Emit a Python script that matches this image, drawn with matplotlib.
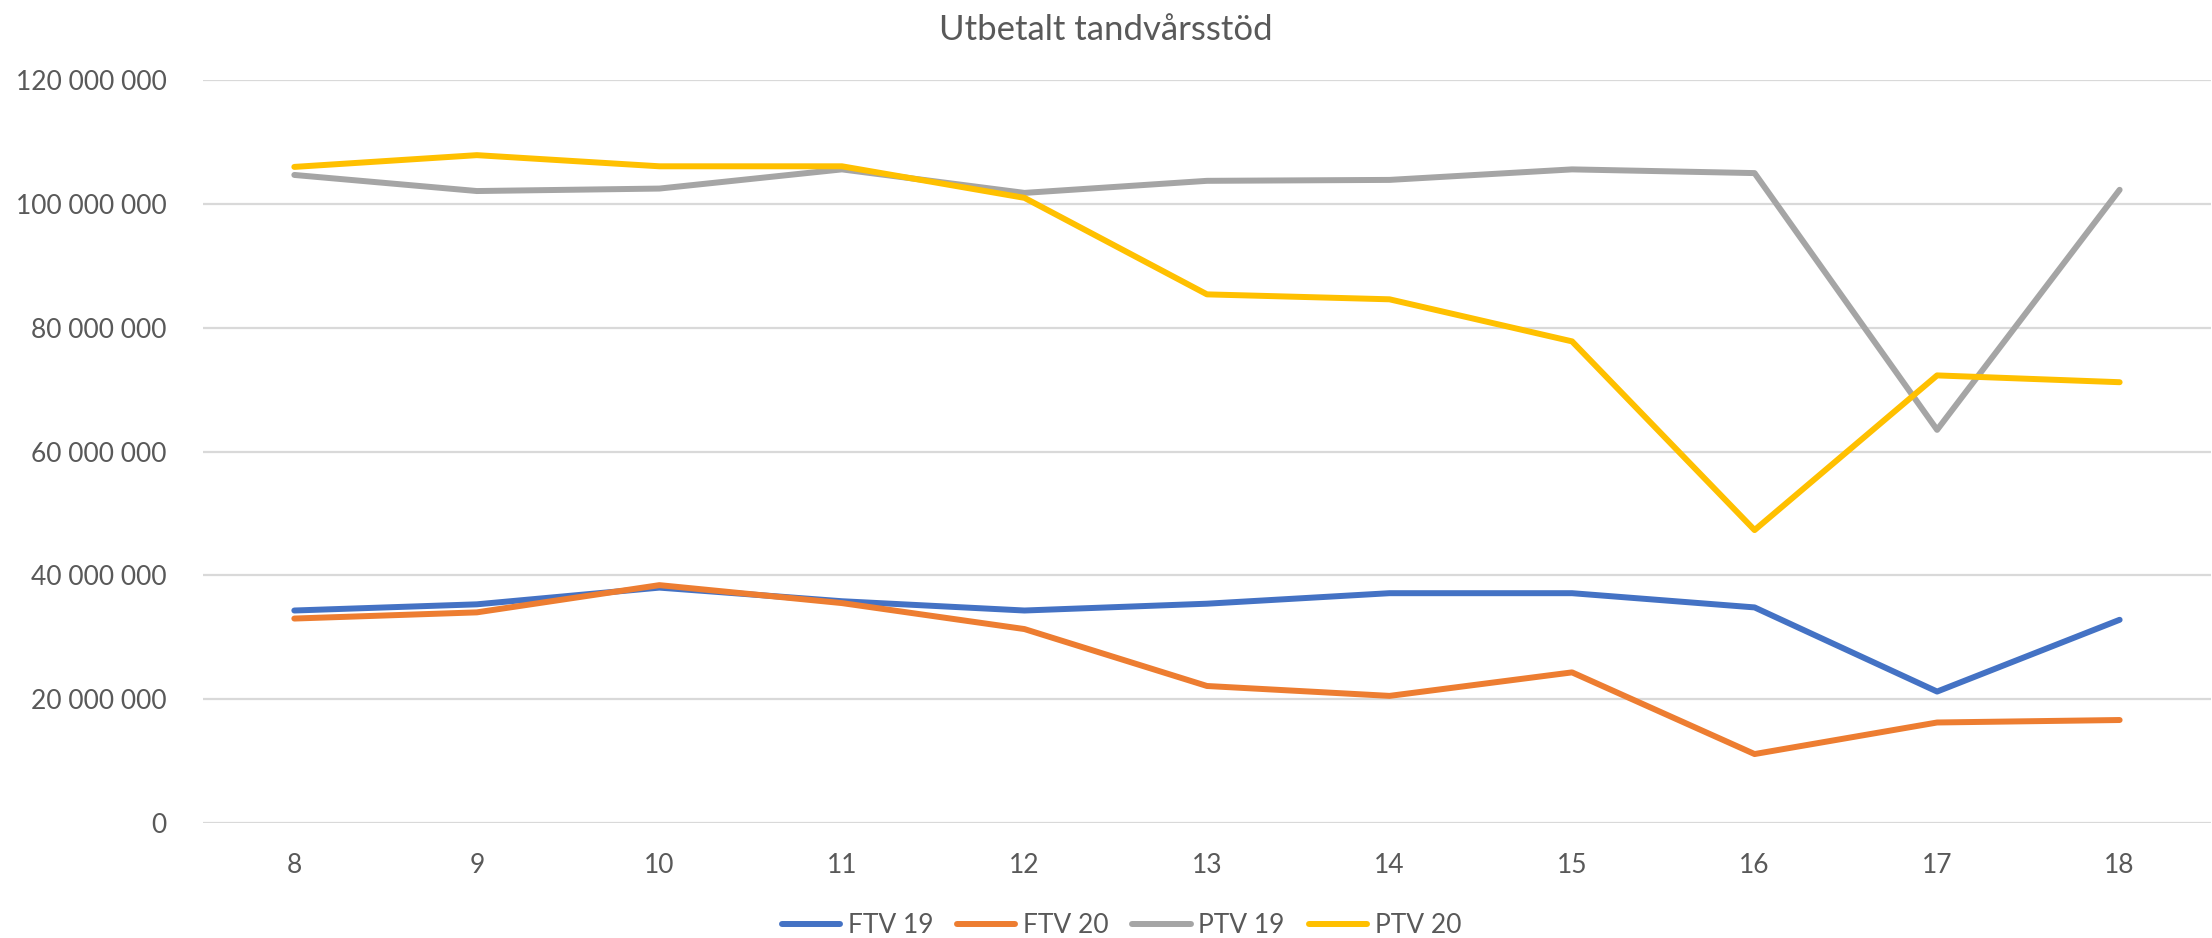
import matplotlib.pyplot as plt
from matplotlib.ticker import FuncFormatter

# --- DATA ---
weeks = [8, 9, 10, 11, 12, 13, 14, 15, 16, 17, 18]
ftv_19 = [34.3e6, 35.3e6, 38.0e6, 35.8e6, 34.3e6, 35.4e6, 37.1e6, 37.1e6, 34.8e6, 21.2e6, 32.8e6]
ftv_20 = [33.0e6, 34.0e6, 38.4e6, 35.5e6, 31.3e6, 22.1e6, 20.5e6, 24.3e6, 11.1e6, 16.2e6, 16.6e6]
ptv_19 = [104.7e6, 102.1e6, 102.5e6, 105.6e6, 101.8e6, 103.75e6, 103.9e6, 105.6e6, 105.0e6, 63.5e6, 102.3e6]
ptv_20 = [106.0e6, 107.9e6, 106.1e6, 106.1e6, 101.0e6, 85.4e6, 84.6e6, 77.8e6, 47.3e6, 72.3e6, 71.2e6]

series = [
    ("FTV 19", ftv_19, "#4472C4"),
    ("FTV 20", ftv_20, "#ED7D31"),
    ("PTV 19", ptv_19, "#A5A5A5"),
    ("PTV 20", ptv_20, "#FFC000"),
]

TEXT = "#595959"
plt.rcParams['font.family'] = ['Lato', 'DejaVu Sans']

fig = plt.figure(figsize=(22.12, 9.38), dpi=100)
ax = fig.add_axes([0.0918, 0.1229, 0.9077, 0.7915])

x = list(range(len(weeks)))
for label, vals, col in series:
    ax.plot(x, vals, color=col, linewidth=4.3, label=label, solid_capstyle='round',
            solid_joinstyle='round')

ax.set_xlim(-0.5, len(weeks) - 0.5)
ax.set_ylim(0, 120e6)
ax.set_yticks(range(0, 120000001, 20000000))
ax.yaxis.set_major_formatter(FuncFormatter(lambda v, p: f"{int(v):,}".replace(",", " ")))
ax.set_xticks(x)
ax.set_xticklabels([str(w) for w in weeks])

ax.grid(axis='y', color='#D9D9D9', linewidth=1.6)
ax.set_axisbelow(True)
for s in ax.spines.values():
    s.set_visible(False)
ax.tick_params(length=0, labelsize=19, labelcolor=TEXT)
ax.tick_params(axis='y', pad=26)
ax.tick_params(axis='x', pad=22)

fig.suptitle("Utbetalt tandvårsstöd", y=0.985, fontsize=25, color=TEXT)

fig.legend(loc='center', bbox_to_anchor=(0.507, 0.013), ncol=4, frameon=False,
           fontsize=19, labelcolor=TEXT, handlelength=2.2, columnspacing=0.9,
           handletextpad=0.3)

fig.savefig("out.png", dpi=100)
